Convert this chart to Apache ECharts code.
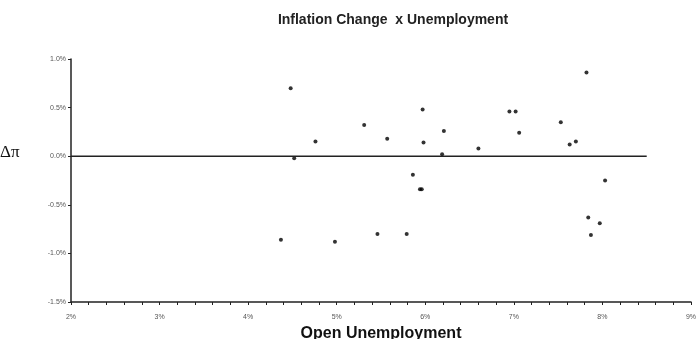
<!DOCTYPE html>
<html lang="en">
  <head>
    <meta charset="UTF-8" />
    <title>Inflation Change x Unemployment</title>
    <style>
      html, body { margin: 0; padding: 0; background: #fff; }
    </style>
  </head>
  <body>
    <div id="main" style="width: 700px; height: 339px"></div>
    <script src="https://cdn.jsdelivr.net/npm/echarts@6.0.0/dist/echarts.min.js"></script>
    <script>
      // open unemployment (%) and change in inflation (%)
      const unemployment = [
        4.48, 4.52, 4.76, 5.31, 5.57, 5.97, 5.98, 6.21, 6.19, 6.60,
        5.86, 5.94, 5.96, 4.37, 4.98, 5.46, 5.79,
        7.82, 6.95, 7.02, 7.06, 7.53, 7.63, 7.70, 8.03, 7.84, 7.97, 7.87,
      ];
      const inflationChange = [
        0.70, -0.02, 0.15, 0.32, 0.18, 0.48, 0.14, 0.26, 0.02, 0.08,
        -0.19, -0.34, -0.34, -0.86, -0.88, -0.80, -0.80,
        0.86, 0.46, 0.46, 0.24, 0.35, 0.12, 0.15, -0.25, -0.63, -0.69, -0.81,
      ];
      const zeroLineX = [2, 8.5];
      const zeroLineY = [0, 0];

      const points = unemployment.map((u, i) => [u, inflationChange[i]]);
      const zeroLine = zeroLineX.map((x, i) => [x, zeroLineY[i]]);

      var chart = echarts.init(document.getElementById("main"));
      chart.setOption({
        animation: false,
        title: [
          {
            text: "Inflation Change  x Unemployment",
            left: 388,
            textAlign: "center",
            top: 8,
            textStyle: {
              fontFamily: "Liberation Sans",
              fontWeight: "bold",
              fontSize: 14,
              color: "#222",
            },
          },
          {
            // y axis name sits level with the zero line
            text: "Δπ",
            left: 0,
            top: 144,
            padding: 0,
            textStyle: {
              fontFamily: "Liberation Serif",
              fontWeight: "normal",
              fontSize: 17,
              color: "#111",
            },
          },
        ],
        grid: { left: 71, right: 9, top: 59, bottom: 37, outerBoundsMode: "none" },
        xAxis: {
          type: "value",
          min: 2,
          max: 9,
          interval: 1,
          name: "Open Unemployment",
          nameLocation: "middle",
          nameGap: 23,
          nameTextStyle: {
            fontFamily: "Liberation Sans",
            fontWeight: "bold",
            fontSize: 16,
            color: "#111",
          },
          axisLine: { onZero: false, lineStyle: { color: "#222", width: 1.5 } },
          axisTick: { length: 3, lineStyle: { color: "#222" } },
          minorTick: { show: true, splitNumber: 5, length: 3, lineStyle: { color: "#222" } },
          splitLine: { show: false },
          axisLabel: {
            formatter: (v) => v + "%",
            fontFamily: "Liberation Sans",
            fontSize: 7,
            color: "#555",
            margin: 12,
          },
        },
        yAxis: {
          type: "value",
          min: -1.5,
          max: 1.0,
          interval: 0.5,
          axisLine: { show: true, lineStyle: { color: "#222", width: 1.5 } },
          axisTick: { show: true, length: 3, lineStyle: { color: "#222" } },
          splitLine: { show: false },
          axisLabel: {
            formatter: (v) => v.toFixed(1) + "%",
            fontFamily: "Liberation Sans",
            fontSize: 7,
            color: "#555",
            margin: 5,
          },
        },
        series: [
          {
            type: "line",
            data: zeroLine,
            symbol: "none",
            lineStyle: { color: "#222", width: 1.5 },
            silent: true,
          },
          {
            type: "scatter",
            data: points,
            symbol: "circle",
            symbolSize: 4,
            itemStyle: { color: "#000" },
          },
        ],
      });
    </script>
  </body>
</html>
